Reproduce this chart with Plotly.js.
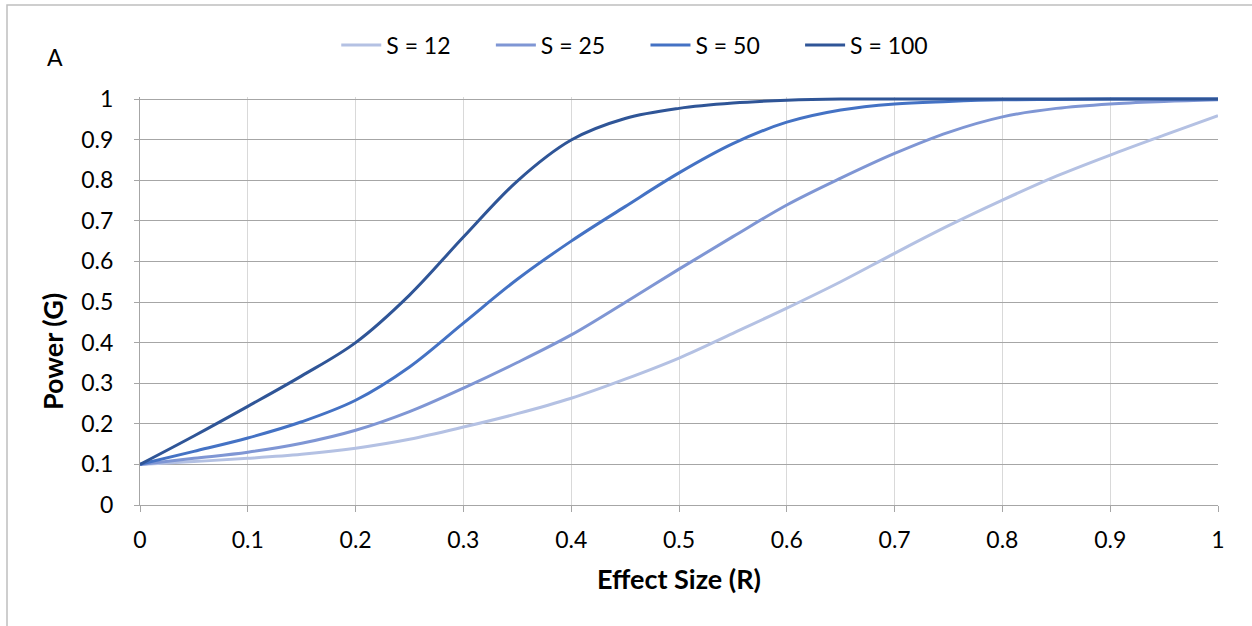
<!DOCTYPE html>
<html>
<head>
<meta charset="utf-8">
<script src="https://cdn.plot.ly/plotly-3.0.1.min.js"></script>
<style>
html,body{margin:0;padding:0;background:#fff;}
#chart{width:1252px;height:626px;}
</style>
</head>
<body>
<div id="chart"></div>
<script>
const effectSize = [0, 0.05, 0.1, 0.15, 0.2, 0.25, 0.3, 0.35, 0.4, 0.45, 0.5, 0.55, 0.6, 0.65, 0.7, 0.75, 0.8, 0.85, 0.9, 0.95, 1];
const seriesNames = ["S = 12", "S = 25", "S = 50", "S = 100"];
const powerS12  = [0.1, 0.107, 0.115, 0.125, 0.140, 0.162, 0.192, 0.225, 0.263, 0.310, 0.362, 0.423, 0.485, 0.550, 0.620, 0.688, 0.751, 0.810, 0.862, 0.911, 0.959];
const powerS25  = [0.1, 0.115, 0.130, 0.152, 0.184, 0.230, 0.288, 0.351, 0.419, 0.499, 0.581, 0.661, 0.739, 0.805, 0.866, 0.918, 0.956, 0.977, 0.988, 0.994, 0.998];
const powerS50  = [0.1, 0.132, 0.165, 0.205, 0.258, 0.340, 0.448, 0.556, 0.650, 0.735, 0.818, 0.890, 0.943, 0.973, 0.988, 0.994, 0.998, 0.999, 1, 1, 1];
const powerS100 = [0.1, 0.170, 0.243, 0.318, 0.400, 0.517, 0.660, 0.798, 0.899, 0.952, 0.977, 0.990, 0.997, 1, 1, 1, 1, 1, 1, 1, 1];
const xTicks = [0, 0.1, 0.2, 0.3, 0.4, 0.5, 0.6, 0.7, 0.8, 0.9, 1];
const xTickLabels = ["0", "0.1", "0.2", "0.3", "0.4", "0.5", "0.6", "0.7", "0.8", "0.9", "1"];
const yTicks = [0, 0.1, 0.2, 0.3, 0.4, 0.5, 0.6, 0.7, 0.8, 0.9, 1];
const yTickLabels = ["0", "0.1", "0.2", "0.3", "0.4", "0.5", "0.6", "0.7", "0.8", "0.9", "1"];

const colors = ["#B4C1E3", "#7F96D4", "#4472C4", "#2F5597"];
const allSeries = [powerS12, powerS25, powerS50, powerS100];
const FONT = "Lato, 'Open Sans', 'Liberation Sans', sans-serif";
const PAD = "\u00A0\u00A0\u00A0\u00A0\u00A0\u00A0";

const traces = allSeries.map((ys, i) => ({
  type: "scatter",
  mode: "lines",
  name: seriesNames[i] + (i < allSeries.length - 1 ? PAD : ""),
  x: effectSize,
  y: ys,
  line: {color: colors[i], width: 3, shape: "spline", smoothing: 1}
}));

const layout = {
  width: 1252, height: 626,
  margin: {l: 140, r: 34, t: 97, b: 121},
  paper_bgcolor: "#ffffff",
  plot_bgcolor: "#ffffff",
  font: {family: FONT, size: 23, color: "#000000"},
  showlegend: true,
  legend: {
    orientation: "h",
    xref: "container", yref: "container",
    x: 0.507, xanchor: "center",
    y: 1 - 45/626, yanchor: "middle",
    font: {family: FONT, size: 23, color: "#000"},
    itemwidth: 40,
    tracegroupgap: 0
  },
  xaxis: {
    range: [0, 1],
    tickvals: xTicks,
    ticktext: xTickLabels,
    showgrid: true, gridcolor: "#D9D9D9", gridwidth: 1,
    zeroline: false,
    showline: true, linecolor: "#A6A6A6", linewidth: 1,
    ticks: "outside", ticklen: 6, tickcolor: "#A6A6A6",
    ticklabelstandoff: 8,
    tickfont: {family: FONT, size: 23},
    title: {text: "<b>Effect Size (R)</b>", font: {family: FONT, size: 27}, standoff: 18}
  },
  yaxis: {
    range: [0, 1.005],
    tickvals: yTicks,
    ticktext: yTickLabels,
    showgrid: true, gridcolor: "#A6A6A6", gridwidth: 1,
    zeroline: false,
    showline: true, linecolor: "#A6A6A6", linewidth: 1,
    ticks: "outside", ticklen: 5, tickcolor: "#A6A6A6",
    ticklabelstandoff: 16,
    tickfont: {family: FONT, size: 23}
  },
  annotations: [{
    text: "A", xref: "paper", yref: "paper",
    x: (55 - 140) / 1078, y: (505 - 57) / 408,
    xanchor: "center", yanchor: "middle", showarrow: false,
    font: {family: FONT, size: 23, color: "#000"}
  }, {
    text: "<b>Power (G)</b>", xref: "paper", yref: "paper",
    x: (52 - 140) / 1078, y: (505 - 352) / 408,
    xanchor: "center", yanchor: "middle", showarrow: false, textangle: -90,
    font: {family: FONT, size: 27, color: "#000"}
  }],
  shapes: [{
    type: "rect", xref: "paper", yref: "paper",
    x0: (7 - 140) / 1078, x1: 1.2,
    y0: -0.5, y1: (505 - 5) / 408,
    line: {color: "#BFBFBF", width: 1.5},
    fillcolor: "rgba(0,0,0,0)", layer: "below"
  }]
};

Plotly.newPlot("chart", traces, layout, {displayModeBar: false, staticPlot: true});
</script>
</body>
</html>
